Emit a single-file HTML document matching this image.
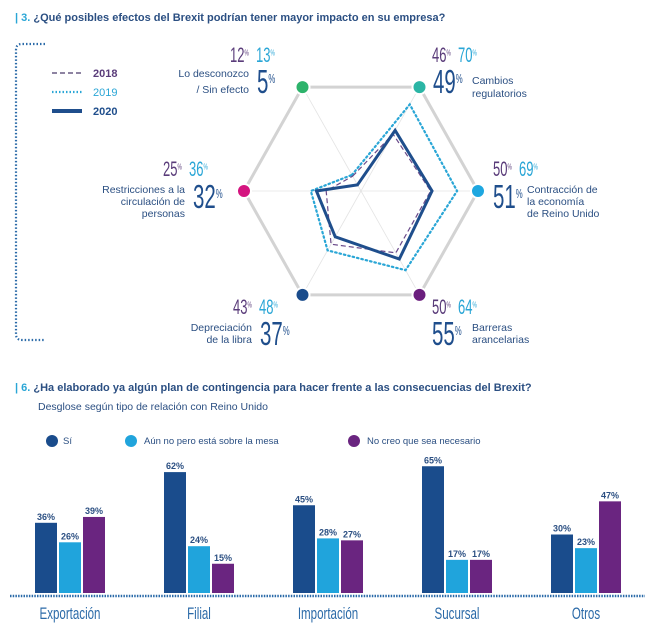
<!DOCTYPE html>
<html><head><meta charset="utf-8">
<style>
html,body{margin:0;padding:0;background:#fff;}
svg{display:block;font-family:"Liberation Sans",sans-serif;}
.c{font-family:"Liberation Sans",sans-serif;}
</style></head>
<body>
<svg id="chart" width="649" height="632" viewBox="0 0 649 632" xmlns="http://www.w3.org/2000/svg">
  <!-- Title 1 -->
  <text x="15" y="21" font-size="11" font-weight="bold" fill="#2b4f82"><tspan fill="#2aa6d6">| 3.</tspan>  ¿Qué posibles efectos del Brexit podrían tener mayor impacto en su empresa?</text>
  <!-- bracket -->
  <path d="M45 44 H22 Q16 44 16 50 V334 Q16 340 22 340 H45" fill="none" stroke="#2a6aa8" stroke-width="2.2" stroke-dasharray="1.5 2"/>
  <!-- radar legend -->
  <g>
    <line x1="52" y1="73" x2="82" y2="73" stroke="#4a3a6a" stroke-width="1.3" stroke-dasharray="5 3"/>
    <text x="93" y="77" font-size="11" font-weight="bold" fill="#5a3c7a">2018</text>
    <line x1="52" y1="92" x2="82" y2="92" stroke="#2aa6d6" stroke-width="2.2" stroke-dasharray="1.5 2"/>
    <text x="93" y="96" font-size="11" fill="#2aa6d6">2019</text>
    <line x1="52" y1="111" x2="82" y2="111" stroke="#1f4e8c" stroke-width="4"/>
    <text x="93" y="115" font-size="11" font-weight="bold" fill="#1f4e8c">2020</text>
  </g>
  <g id="radar"></g>
  <g id="radarLabels"></g>

  <!-- Title 2 -->
  <text x="15" y="391" font-size="11" font-weight="bold" fill="#2b4f82"><tspan fill="#2aa6d6">| 6.</tspan>  ¿Ha elaborado ya algún plan de contingencia para hacer frente a las consecuencias del Brexit?</text>
  <text x="38" y="410" font-size="10.5" fill="#2b4f82">Desglose según tipo de relación con Reino Unido</text>
  <g>
    <circle cx="52" cy="441" r="6" fill="#1a4c8c"/><text x="63" y="444" font-size="9.5" fill="#2b4f82">Sí</text>
    <circle cx="131" cy="441" r="6" fill="#20a4dc"/><text x="144" y="444" font-size="9.5" fill="#2b4f82">Aún no pero está sobre la mesa</text>
    <circle cx="354" cy="441" r="6" fill="#6a2580"/><text x="367" y="444" font-size="9.5" fill="#2b4f82">No creo que sea necesario</text>
  </g>
  <g id="bars"></g>
  <line x1="10" y1="596" x2="645" y2="596" stroke="#2a6aa8" stroke-width="2.5" stroke-dasharray="1.5 1.2"/>
</svg>
<script>
// Radar data
const radarAxes = ["Lo desconozco / Sin efecto","Cambios regulatorios","Contracción de la economía de Reino Unido","Barreras arancelarias","Depreciación de la libra","Restricciones a la circulación de personas"];
const radar2018 = [12,46,50,50,43,25];
const radar2019 = [13,70,69,64,48,36];
const radar2020 = [5,49,51,55,37,32];
// Bar data
const barCategories = ["Exportación","Filial","Importación","Sucursal","Otros"];
const barSi = [36,62,45,65,30];
const barAun = [26,24,28,17,23];
const barNo = [39,15,27,17,47];

const NS="http://www.w3.org/2000/svg";
function mk(tag,attrs,parent){const e=document.createElementNS(NS,tag);for(const k in attrs)e.setAttribute(k,attrs[k]);parent.appendChild(e);return e;}

// radar geometry
const cx=361, cy=191, RX=117, RY=120, MAXV=84;
const angles=[120,60,0,-60,-120,180];
function rpt(i,v){const a=angles[i]*Math.PI/180;const r=v/MAXV;return [cx+Math.cos(a)*RX*r, cy-Math.sin(a)*RY*r];}
function hpt(i,f){const a=angles[i]*Math.PI/180;return [cx+Math.cos(a)*RX*f, cy-Math.sin(a)*RY*f];}
const rg=document.getElementById('radar');
// spokes
for(let i=0;i<6;i++){const p=hpt(i,1);const l=mk('line',{x1:cx,y1:cy,x2:p[0],y2:p[1],stroke:'#e4e4e4','stroke-width':0.8},rg);

}
const hex=mk('polygon',{points:[0,1,2,3,4,5].map(i=>hpt(i,1).join(',')).join(' '),fill:'none',stroke:'#d3d3d3','stroke-width':3},rg);


function series(vals,style,name){const p=mk('polygon',Object.assign({points:vals.map((v,i)=>rpt(i,v).join(',')).join(' '),fill:'none'},style),rg);

}
series(radar2019,{stroke:'#2aa6d6','stroke-width':2.2,'stroke-dasharray':'1.5 3','stroke-linecap':'round'},'series-2019');
series(radar2018,{stroke:'#6a4a8a','stroke-width':1.2,'stroke-dasharray':'5 3'},'series-2018');
series(radar2020,{stroke:'#1f4e8c','stroke-width':3,'stroke-linejoin':'miter'},'series-2020');
const dotColors=['#2db36b','#2bb5a5','#1ea7e0','#6b1f7e','#1a4c8c','#d4147f'];
for(let i=0;i<6;i++){const p=hpt(i,1);const c=mk('circle',{cx:p[0],cy:p[1],r:7,fill:dotColors[i],stroke:'#fff','stroke-width':2},rg);

}

// radar labels
const lg=document.getElementById('radarLabels');
const labelPos=[
 {sx:230,sy:62,bx:257,by:93,tx:249,ty:[77,93],anchor:'end',lines:["Lo desconozco","/ Sin efecto"]},
 {sx:432,sy:62,bx:433,by:93,tx:472,ty:[84,97],anchor:'start',lines:["Cambios","regulatorios"]},
 {sx:493,sy:176,bx:493,by:208,tx:527,ty:[193,205,217],anchor:'start',lines:["Contracción de","la economía","de Reino Unido"]},
 {sx:432,sy:314,bx:432,by:345,tx:472,ty:[331,343],anchor:'start',lines:["Barreras","arancelarias"]},
 {sx:233,sy:314,bx:260,by:345,tx:252,ty:[331,343],anchor:'end',lines:["Depreciación","de la libra"]},
 {sx:163,sy:176,bx:193,by:208,tx:185,ty:[193,205,217],anchor:'end',lines:["Restricciones a la","circulación de","personas"]}
];
function pctText(x,y,val,size,color,name){
  const g=mk('g',{transform:`translate(${x},${y}) scale(0.62,1)`},lg);
  
  
  const t=mk('text',{x:0,y:0,'font-size':size,fill:color},g);
  t.textContent=val;
  const s=mk('tspan',{'font-size':size*0.38,dy:-size*0.3},t);s.textContent='%';
  return t;
}
labelPos.forEach((L,i)=>{
  pctText(L.sx,L.sy,radar2018[i],21,'#5a3c7a','value-2018');
  pctText(L.sx+26,L.sy,radar2019[i],21,'#2aa6d6','value-2019');
  pctText(L.bx,L.by,radar2020[i],33,'#1f4e8c','value-2020');
  L.lines.forEach((ln,j)=>{const t=mk('text',{x:L.tx,y:L.ty[j],'font-size':10.5,fill:'#2b4f82','text-anchor':L.anchor},lg);t.textContent=ln;
  
  });
});

// bars
const bg=document.getElementById('bars');
const base=593, pxPer=1.95, bw=22, gap=2;
const groupCenters0=70, groupStep=129;
function xGroup(i){return groupCenters0+i*groupStep;}
function yVal(v){return base-v*pxPer;}
const seriesList=[[barSi,'#1a4c8c','bar-si'],[barAun,'#20a4dc','bar-aun-no'],[barNo,'#6a2580','bar-no-necesario']];
barCategories.forEach((cat,i)=>{
  const c=xGroup(i);
  seriesList.forEach((s,k)=>{
    const v=s[0][i];const x=c-(bw*1.5+gap)+k*(bw+gap);
    const r=mk('rect',{x:x,y:yVal(v),width:bw,height:base-yVal(v),fill:s[1]},bg);
    
    
    const t=mk('text',{x:x+bw/2,y:yVal(v)-3,'font-size':9,'font-weight':'bold',fill:'#2b4f82','text-anchor':'middle'},bg);
    t.textContent=v+'%';
    
    
  });
  const g=mk('g',{transform:`translate(${c},619) scale(0.68,1)`},bg);
  
  
  const t=mk('text',{x:0,y:0,'font-size':17,fill:'#2b6aa8','text-anchor':'middle'},g);t.textContent=cat;
});
</script>
</body></html>
